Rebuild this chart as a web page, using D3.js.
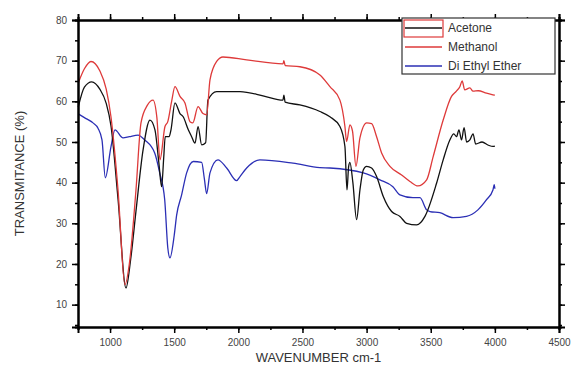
<!DOCTYPE html>
<html>
<head>
<meta charset="utf-8">
<script src="https://cdn.jsdelivr.net/npm/d3@7"></script>
<style>
  body { margin: 0; background: #fff; }
  svg { font-family: "Liberation Sans", Arial, sans-serif; }
</style>
</head>
<body>
<svg width="573" height="371"></svg>
<script>
// wavenumber / transmittance pairs
var acetoneX = [752, 800, 857, 920, 970, 1007, 1062, 1124, 1160, 1202, 1257, 1311, 1350, 1380, 1402, 1418, 1430, 1460, 1475, 1506, 1545, 1570, 1610, 1636, 1662, 1686, 1714, 1745, 1763, 1831, 2013, 2200, 2348, 2355, 2365, 2480, 2636, 2714, 2792, 2831, 2847, 2860, 2870, 2893, 2922, 2948, 2974, 3000, 3039, 3078, 3130, 3195, 3260, 3312, 3390, 3455, 3546, 3597, 3649, 3680, 3701, 3720, 3740, 3760, 3780, 3805, 3830, 3850, 3900, 3950, 3985, 4000];
var acetoneY = [58.6, 63.5, 64.8, 63, 59.5, 54, 36, 14.1, 21, 33, 48, 55.4, 53, 45, 39, 46, 51.3, 51.3, 53, 59.6, 57, 56.2, 53, 51.3, 49.7, 53.8, 49.3, 49.8, 60.3, 62.4, 62.4, 61.3, 60.3, 61.5, 59.8, 59.1, 57.5, 56.2, 53.8, 48.9, 38.2, 44, 45, 40, 30.9, 38.2, 43.1, 44, 43.6, 41.5, 36.6, 32.9, 31.7, 30, 29.6, 31.7, 39.9, 45.6, 50.5, 52, 51.3, 53, 50.5, 53.5, 50, 50.5, 52, 49.5, 50, 49.2, 48.9, 49];

var methanolX = [752, 800, 851, 920, 970, 1007, 1062, 1116, 1150, 1202, 1241, 1290, 1335, 1365, 1389, 1428, 1450, 1480, 1506, 1545, 1584, 1623, 1645, 1686, 1724, 1753, 1779, 1831, 1880, 2065, 2348, 2355, 2365, 2480, 2636, 2714, 2792, 2831, 2844, 2870, 2890, 2917, 2948, 3000, 3039, 3078, 3117, 3182, 3273, 3338, 3400, 3468, 3519, 3597, 3662, 3700, 3727, 3745, 3765, 3805, 3830, 3870, 3935, 3985, 4000];
var methanolY = [64.5, 68, 69.8, 67.5, 63, 56.2, 38.2, 14.9, 20, 38.2, 54.7, 59, 60.3, 56, 45.6, 53.8, 55, 60, 63.6, 61.2, 59.6, 55, 54.7, 58.7, 57, 56.7, 65.3, 69.8, 70.9, 70.2, 69.2, 70, 68.8, 68.5, 66.5, 63.6, 60.3, 53.8, 50.1, 54.2, 52.7, 44, 51, 54.7, 54.5, 51.3, 47.3, 44, 41.9, 40.3, 39.2, 40.7, 46.4, 55.4, 61.2, 62.5, 63.6, 65, 62.8, 63.3, 62.5, 62.6, 62, 61.6, 61.5];

var etherX = [752, 800, 867, 906, 937, 963, 1007, 1038, 1101, 1150, 1218, 1270, 1348, 1387, 1426, 1450, 1467, 1500, 1519, 1558, 1597, 1649, 1714, 1735, 1753, 1779, 1841, 1909, 1987, 2013, 2065, 2168, 2426, 2636, 2714, 2974, 3104, 3205, 3260, 3361, 3416, 3468, 3494, 3571, 3674, 3779, 3868, 3935, 3985, 3995, 4000];
var etherY = [56.9, 56, 54.7, 53.4, 50.5, 41.2, 48.8, 53, 51, 51.3, 51.7, 50.5, 47.3, 42.4, 35.8, 24, 21.5, 27, 32, 37, 42.4, 45.2, 45, 41, 37.3, 42.4, 45.6, 43.6, 40.5, 41.5, 43.6, 45.6, 44.8, 43.7, 43.6, 42.4, 40.7, 39, 37, 36.3, 36.3, 33.3, 32.9, 32.6, 31.4, 31.7, 33.3, 35.8, 38.2, 39.5, 38.5];

var seriesNames = ["Acetone", "Methanol", "Di Ethyl Ether"];
var xTicks = [1000, 1500, 2000, 2500, 3000, 3500, 4000, 4500];
var yTicks = [10, 20, 30, 40, 50, 60, 70, 80];

var svg = d3.select("svg");
var plotL = 78, plotR = 559, plotT = 20, plotB = 327;

var x = d3.scaleLinear().domain([750, 4500]).range([plotL, plotR]);
var y = d3.scaleLinear().domain([4.5, 80]).range([plotB, plotT]);

var series = [
  {name: seriesNames[0], xs: acetoneX, ys: acetoneY, color: "#111"},
  {name: seriesNames[1], xs: methanolX, ys: methanolY, color: "#de3a3a"},
  {name: seriesNames[2], xs: etherX, ys: etherY, color: "#2b2fb5"}
];

var line = d3.line()
  .curve(d3.curveMonotoneX)
  .x(function (d) { return x(d[0]); })
  .y(function (d) { return y(d[1]); });

// draw ether first, then acetone, methanol on top
[series[2], series[0], series[1]].forEach(function (s) {
  var pts = s.xs.map(function (v, i) { return [v, s.ys[i]]; });
  svg.append("path")
    .datum(pts)
    .attr("fill", "none")
    .attr("stroke", s.color)
    .attr("stroke-width", 1.3)
    .attr("stroke-linejoin", "round")
    .attr("d", line);
});

// axes
var minorX = d3.range(750, 4501, 250);
var minorY = d3.range(5, 81, 5);

function styleAxis(g) {
  g.select(".domain").attr("stroke", "#000").attr("stroke-width", 2);
  g.selectAll(".tick line").attr("stroke", "#000").attr("stroke-width", 1.5);
  g.selectAll(".tick text").attr("fill", "#444").attr("font-size", 10);
}

svg.append("g")
  .attr("transform", "translate(0," + plotB + ")")
  .call(d3.axisBottom(x).tickValues(minorX).tickSize(3).tickFormat(""))
  .call(styleAxis);
svg.append("g")
  .attr("transform", "translate(0," + plotB + ")")
  .call(d3.axisBottom(x).tickValues(xTicks).tickSize(6).tickPadding(6).tickFormat(d3.format("d")))
  .call(styleAxis);

svg.append("g")
  .attr("transform", "translate(0," + plotT + ")")
  .call(d3.axisTop(x).tickValues(minorX).tickSize(3).tickFormat(""))
  .call(styleAxis);
svg.append("g")
  .attr("transform", "translate(0," + plotT + ")")
  .call(d3.axisTop(x).tickValues(xTicks).tickSize(6).tickFormat(""))
  .call(styleAxis);

svg.append("g")
  .attr("transform", "translate(" + plotL + ",0)")
  .call(d3.axisLeft(y).tickValues(minorY).tickSize(3).tickFormat(""))
  .call(styleAxis);
svg.append("g")
  .attr("transform", "translate(" + plotL + ",0)")
  .call(d3.axisLeft(y).tickValues(yTicks).tickSize(6).tickPadding(5))
  .call(styleAxis);

svg.append("g")
  .attr("transform", "translate(" + plotR + ",0)")
  .call(d3.axisRight(y).tickValues(minorY).tickSize(3).tickFormat(""))
  .call(styleAxis);
svg.append("g")
  .attr("transform", "translate(" + plotR + ",0)")
  .call(d3.axisRight(y).tickValues(yTicks).tickSize(6).tickFormat(""))
  .call(styleAxis);

// titles
svg.append("text")
  .attr("x", (plotL + plotR) / 2)
  .attr("y", 362)
  .attr("text-anchor", "middle")
  .attr("font-size", 13)
  .attr("fill", "#333")
  .text("WAVENUMBER cm-1");

svg.append("text")
  .attr("transform", "translate(24," + ((plotT + plotB) / 2) + ") rotate(-90)")
  .attr("text-anchor", "middle")
  .attr("font-size", 13)
  .attr("fill", "#333")
  .text("TRANSMITANCE (%)");

// legend
var lg = svg.append("g").attr("transform", "translate(402,18)");
lg.append("rect")
  .attr("width", 153).attr("height", 56)
  .attr("fill", "#fff").attr("stroke", "#333").attr("stroke-width", 1.2);
lg.append("rect")
  .attr("x", 2).attr("y", 2).attr("width", 39).attr("height", 17)
  .attr("fill", "none").attr("stroke", "#de3a3a").attr("stroke-width", 1.2);
series.forEach(function (s, i) {
  var yy = 10 + i * 19;
  lg.append("line")
    .attr("x1", 3).attr("x2", 40).attr("y1", yy).attr("y2", yy)
    .attr("stroke", s.color).attr("stroke-width", 1.3);
  lg.append("text")
    .attr("x", 46).attr("y", yy + 4)
    .attr("font-size", 12)
    .attr("fill", "#333")
    .text(s.name);
});
</script>
</body>
</html>
